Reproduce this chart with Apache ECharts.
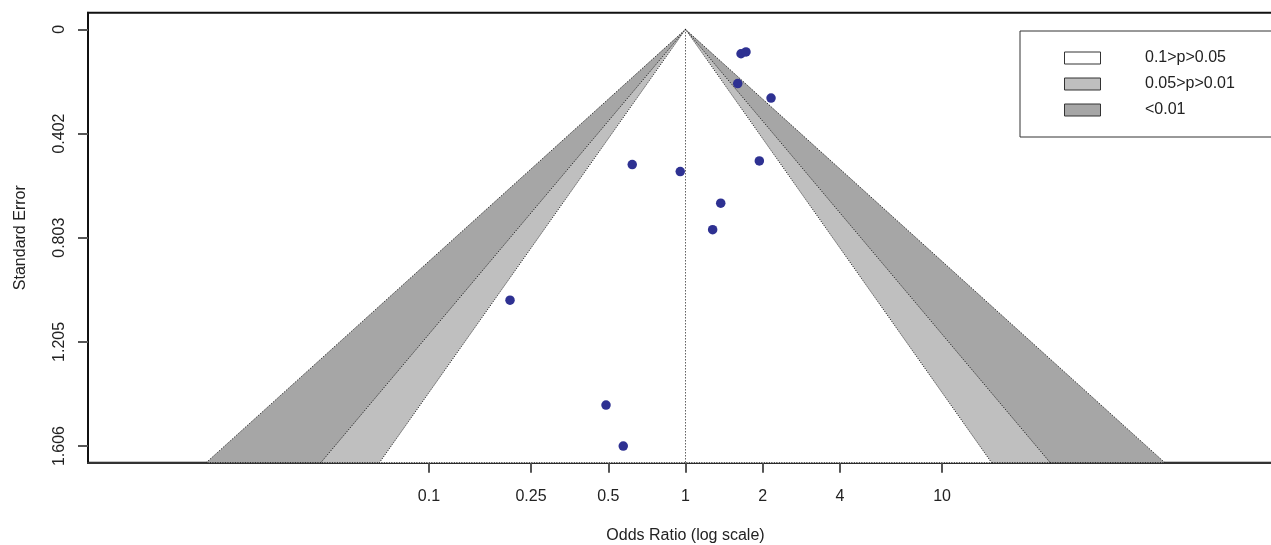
<!DOCTYPE html>
<html>
<head>
<meta charset="utf-8">
<script src="https://cdn.jsdelivr.net/npm/echarts@6/dist/echarts.min.js"></script>
<style>
  html, body { margin: 0; padding: 0; background: #fff; }
  #chart { width: 1271px; height: 545px; }
</style>
</head>
<body>
<div id="chart"></div>
<script>
// study estimates
const oddsRatios = [1.646, 1.721, 1.598, 2.155, 0.620, 0.954, 1.940, 1.372, 1.276, 0.207, 0.490, 0.572]
const stdErrors = [0.094, 0.087, 0.209, 0.265, 0.521, 0.548, 0.507, 0.670, 0.772, 1.044, 1.448, 1.606]

// contour levels (two sided z for p = 0.01, 0.05, 0.1), drawn outermost first
const contourZ = [2.576, 1.96, 1.645]
const contourColors = ['#a6a6a6', '#bfbfbf', '#ffffff']
const legendLabels = ['0.1>p>0.05', '0.05>p>0.01', '<0.01']
const legendColors = ['#ffffff', '#bfbfbf', '#a6a6a6']

const xTickOR = [0.1, 0.25, 0.5, 1, 2, 4, 10]
const xTickLabels = ['0.1', '0.25', '0.5', '1', '2', '4', '10']
const yTickValues = [0, 0.4015, 0.803, 1.2045, 1.606]
const yTickLabels = ['0', '0.402', '0.803', '1.205', '1.606']

const yMin = -0.0642
const yMax = 1.6702
const xMin = -2.329
const xMax = 2.329

const log10 = v => Math.log(v) / Math.LN10
const points = oddsRatios.map((or, i) => [log10(or), stdErrors[i]])
const xTickPos = xTickOR.map(log10)

const font = 'Liberation Sans, Arial, Helvetica, sans-serif'

const chart = echarts.init(document.getElementById('chart'))

const legendGraphics = [{
  type: 'rect', shape: { x: 1020, y: 31, width: 300, height: 106 },
  style: { fill: '#fff', stroke: '#333', lineWidth: 1 }, z: 100
}]
const legendRowY = [58, 84, 110]
legendLabels.forEach((lab, i) => {
  legendGraphics.push({
    type: 'rect', shape: { x: 1064.5, y: legendRowY[i] - 6, width: 36, height: 12 },
    style: { fill: legendColors[i], stroke: '#333', lineWidth: 1 }, z: 101
  })
  legendGraphics.push({
    type: 'text', x: 1145, y: legendRowY[i],
    style: { text: lab, fill: '#222', font: '16px ' + font, textVerticalAlign: 'middle' }, z: 101
  })
})

chart.setOption({
  animation: false,
  grid: {
    left: 88, right: -12, top: 12.7, bottom: 82.3,
    outerBoundsMode: 'none',
    show: true, borderColor: '#111', borderWidth: 2, backgroundColor: '#fff'
  },
  xAxis: {
    type: 'value', min: xMin, max: xMax,
    name: 'Odds Ratio (log scale)', nameLocation: 'middle', nameGap: 65,
    nameTextStyle: { color: '#222', fontSize: 16, fontFamily: font },
    axisLine: { show: true, onZero: false, lineStyle: { color: '#333', width: 2 } },
    axisTick: { show: true, length: 10, customValues: xTickPos, lineStyle: { color: '#555', width: 2 } },
    axisLabel: {
      customValues: xTickPos, margin: 26, color: '#222', fontSize: 16, fontFamily: font,
      formatter: v => {
        const i = xTickPos.findIndex(p => Math.abs(p - v) < 1e-6)
        return i >= 0 ? xTickLabels[i] : ''
      }
    },
    splitLine: { show: false }
  },
  yAxis: {
    type: 'value', inverse: true, min: yMin, max: yMax,
    name: 'Standard Error', nameLocation: 'middle', nameGap: 59, nameRotate: 90,
    nameTextStyle: { color: '#222', fontSize: 16, fontFamily: font },
    axisLine: { show: true, onZero: false, lineStyle: { color: '#111', width: 2 } },
    axisTick: { show: true, length: 10, customValues: yTickValues, lineStyle: { color: '#555', width: 2 } },
    axisLabel: {
      customValues: yTickValues, rotate: 90, margin: 20, color: '#222', fontSize: 16, fontFamily: font,
      formatter: v => {
        const i = yTickValues.findIndex(p => Math.abs(p - v) < 1e-6)
        return i >= 0 ? yTickLabels[i] : ''
      }
    },
    splitLine: { show: false }
  },
  graphic: legendGraphics,
  series: [
    {
      // funnel contour regions, apex at OR = 1, SE = 0
      type: 'custom',
      data: contourZ.map(z => [z]),
      z: 1,
      silent: true,
      renderItem: (params, api) => {
        const half = api.value(0) * yMax / Math.LN10
        const pts = [api.coord([0, 0]), api.coord([-half, yMax]), api.coord([half, yMax])]
        return {
          type: 'polygon',
          shape: { points: pts },
          style: { fill: contourColors[params.dataIndex], stroke: '#111', lineWidth: 1, lineDash: [1, 1.5] }
        }
      }
    },
    {
      type: 'line',
      data: [[0, 0], [0, yMax]],
      symbol: 'none',
      z: 2,
      lineStyle: { color: '#111', width: 1, type: [1, 2] }
    },
    {
      type: 'scatter',
      data: points,
      symbol: 'circle',
      symbolSize: 9.5,
      z: 3,
      itemStyle: { color: '#2e3192', opacity: 1 }
    }
  ]
})
</script>
</body>
</html>
